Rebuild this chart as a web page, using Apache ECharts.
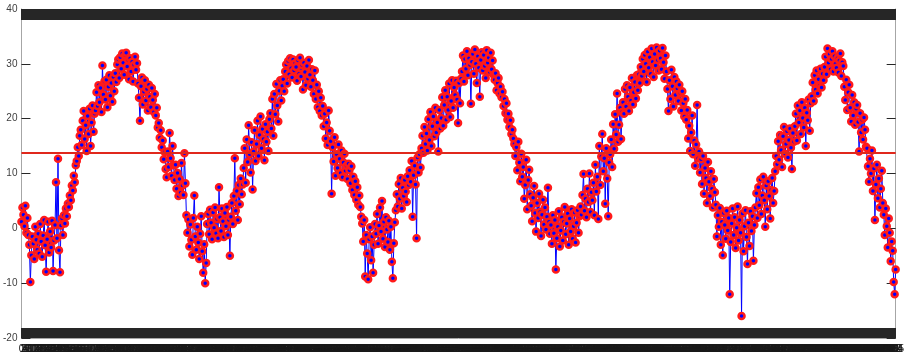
<!DOCTYPE html>
<html>
<head>
<meta charset="utf-8">
<script src="https://cdn.jsdelivr.net/npm/echarts@6/dist/echarts.min.js"></script>
<style>
html,body{margin:0;padding:0;background:#fff;}
#chart{width:907px;height:354px;}
</style>
</head>
<body>
<div id="chart"></div>
<script>
// Daily temperature readings (one value per pixel column)
const temps = [
 1.2,3.8,2.5,0.4,4.1,-0.8,1.9,-1.2,
 -3.0,-9.8,-4.9,-1.5,-2.8,-5.6,0.3,-2.1,-3.9,-1.0,
 -4.6,0.8,-2.4,-5.2,-1.3,1.5,-3.1,-7.9,-2.0,1.2,-4.4,-0.6,-3.5,1.4,-7.8,-2.2,0.6,
 8.4,-1.8,12.7,-4.0,-8.0,
 0.5,1.8,-1.2,2.4,0.9,3.6,2.2,4.5,
 3.9,6.0,5.1,7.8,6.9,9.6,8.4,11.5,
 12.3,14.8,13.2,16.9,18.0,
 15.2,19.6,21.4,16.3,18.8,14.1,20.5,17.2,21.8,15.0,19.3,22.4,17.6,20.9,
 21.5,24.8,22.3,26.1,23.0,25.6,21.2,29.7,24.4,26.8,
 23.5,27.1,22.1,25.8,27.9,24.2,26.5,23.1,27.6,25.0,
 28.3,26.7,29.9,30.8,27.4,31.2,29.1,31.9,30.2,28.0,31.6,32.0,29.5,30.7,27.2,31.0,28.6,30.4,26.8,29.8,31.3,28.9,30.1,
 26.4,23.8,19.6,25.9,27.5,22.6,24.9,
 27.0,23.3,25.4,21.5,26.2,24.0,22.1,25.6,23.4,21.2,24.5,
 20.6,22.0,18.4,19.2,16.5,17.9,14.8,16.0,12.6,13.9,10.8,9.3,
 14.0,11.2,17.4,12.8,9.6,15.0,11.5,
 8.8,11.6,7.2,10.1,5.9,9.0,6.5,11.9,7.8,6.1,13.7,8.2,
 2.4,-0.8,1.6,-3.3,0.7,-2.1,-4.8,1.9,6.0,-1.5,-3.9,0.3,-2.6,-5.6,-1.0,2.2,-4.2,-8.1,-2.9,-10.0,-6.3,
 0.8,2.6,-1.1,3.4,1.0,-2.0,2.9,0.1,3.8,-0.9,1.7,-1.8,7.5,2.0,-0.5,3.6,1.3,-1.6,2.8,0.4,3.9,-1.2,1.5,-5.0,
 2.1,4.6,0.8,5.9,12.8,3.2,6.8,1.5,7.9,4.4,9.1,6.2,8.0,
 11.0,14.6,8.3,16.2,12.1,18.8,13.5,10.2,15.7,7.1,14.0,17.9,12.3,
 15.4,19.6,13.2,17.0,20.4,14.6,18.1,16.3,12.4,19.0,15.8,17.6,14.1,19.9,
 21.0,18.2,23.6,16.9,24.5,20.8,26.3,22.4,19.5,25.1,27.0,23.3,26.0,
 27.2,25.0,28.6,29.9,26.4,30.5,28.1,31.0,29.2,27.5,30.8,28.8,30.1,
 29.4,26.9,30.6,28.2,31.1,27.7,29.8,25.3,30.2,28.5,26.1,29.6,27.3,30.7,28.0,25.8,29.0,
 27.0,24.5,28.8,23.6,26.2,22.1,25.0,21.4,23.8,20.6,
 22.3,18.6,20.9,16.4,19.3,15.2,21.5,17.8,15.9,6.3,
 14.8,12.2,16.6,9.6,13.5,11.0,15.3,12.7,10.1,14.2,9.3,12.0,13.6,10.5,11.4,9.0,11.8,
 10.6,8.2,11.3,7.0,9.4,6.1,8.6,5.2,7.5,4.3,6.0,3.9,2.1,
 0.9,-2.4,1.5,-8.8,-1.2,-4.6,-9.3,-2.0,0.2,-5.8,-1.5,-8.1,-3.0,0.8,
 -1.0,2.6,-2.8,0.5,3.8,-0.6,5.0,-1.9,1.2,-3.4,2.0,-0.2,-2.5,
 1.4,-3.9,0.3,-6.1,-9.1,-2.7,1.1,
 3.3,6.2,4.0,8.1,5.4,9.2,3.6,7.4,5.9,8.8,6.7,4.8,9.5,
 7.9,10.6,8.5,12.3,2.1,9.7,11.4,8.0,-1.8,12.9,10.2,13.5,11.1,
 14.6,16.9,13.8,18.5,15.4,17.3,14.2,19.9,16.1,21.2,15.0,18.6,20.4,16.8,22.0,17.5,19.3,14.0,21.6,18.2,
 20.1,23.9,18.7,22.5,25.2,19.8,24.0,21.6,26.4,20.3,23.2,27.0,22.0,25.7,24.3,26.9,23.5,
 19.2,26.5,22.8,27.3,
 28.6,31.5,26.8,30.9,29.1,32.3,27.9,31.0,29.8,22.7,30.4,31.8,28.2,32.6,30.0,26.5,31.4,29.3,24.0,30.7,32.1,28.8,31.6,29.6,27.4,32.5,30.2,31.1,28.5,32.0,29.0,30.6,28.0,
 27.1,28.3,25.2,26.5,27.4,24.6,25.8,23.9,24.9,22.3,23.6,21.0,22.8,19.8,20.9,18.5,19.7,17.2,18.0,16.4,
 15.4,13.2,14.8,10.6,15.8,12.0,8.6,13.6,9.4,11.2,5.4,7.9,12.5,3.5,8.8,10.7,6.2,
 4.1,1.3,5.6,7.7,2.8,-0.6,4.6,1.9,6.3,3.0,-1.4,2.5,5.2,0.7,3.8,-0.2,2.1,7.4,1.2,-1.0,
 0.6,-2.8,2.4,-0.9,1.5,-7.5,-1.8,0.3,3.1,-3.3,-0.4,2.0,-2.2,1.2,3.9,-1.1,0.9,2.7,-3.0,1.8,-0.6,3.5,-1.9,0.4,2.9,-2.6,1.0,3.3,-0.8,2.2,
 4.0,2.5,6.1,9.9,3.2,5.4,2.0,7.2,4.8,10.0,3.0,6.6,5.1,
 8.3,2.4,11.6,6.7,9.4,1.7,15.0,7.9,13.1,17.2,
 10.4,12.8,4.5,14.6,9.1,2.2,12.0,
 13.5,16.2,11.2,19.0,14.5,20.8,17.1,24.6,15.8,18.9,22.0,16.3,21.2,
 23.0,20.9,25.4,22.2,26.1,24.0,21.4,25.7,23.3,27.4,22.6,24.8,26.7,23.7,27.9,25.2,28.1,
 26.5,29.4,27.8,30.9,28.6,31.6,30.0,26.7,32.2,29.3,31.2,28.2,32.8,30.4,27.6,31.8,29.7,33.0,30.7,28.8,32.4,31.0,29.0,32.9,30.3,27.3,31.5,
 28.6,25.4,21.4,27.0,23.6,28.9,25.9,22.2,27.6,24.3,26.8,25.5,23.2,26.2,24.7,21.5,25.0,22.8,20.4,23.6,
 19.8,21.6,16.4,18.7,14.1,17.5,20.6,13.5,16.0,11.4,15.3,22.5,12.8,
 14.0,10.2,12.6,8.1,13.2,6.3,11.0,9.2,4.6,12.1,8.5,5.9,10.4,7.2,3.8,9.0,6.6,
 4.3,-1.5,2.4,0.3,3.7,-3.0,1.2,-4.9,2.8,0.6,-1.9,3.2,-0.4,1.9,-12.0,-2.5,0.9,3.6,-1.2,2.0,-3.6,0.1,4.0,-2.2,1.5,-0.8,-16.0,2.7,-4.2,0.4,3.3,-1.6,-6.5,
 1.0,-3.2,3.1,-0.5,2.2,-5.9,0.6,
 3.8,6.4,1.9,7.5,4.2,8.9,2.6,6.0,9.4,5.1,0.3,7.8,3.5,8.6,5.9,1.8,7.0,9.2,4.6,6.8,
 10.4,13.2,11.7,15.9,12.5,17.0,14.3,11.2,16.8,18.5,13.6,15.4,17.7,12.9,16.1,18.2,14.7,10.8,17.4,15.8,
 18.6,20.9,16.0,22.4,19.3,21.5,17.2,23.0,20.1,18.4,22.0,15.0,21.1,19.7,23.5,17.8,22.8,
 24.1,26.6,23.2,27.9,25.3,28.8,24.6,27.2,26.0,29.1,25.7,28.2,27.0,
 29.4,31.3,28.1,32.8,30.2,31.8,29.0,30.9,32.3,28.6,31.4,30.0,29.3,31.0,28.4,30.6,31.9,27.8,30.3,29.6,
 25.8,23.4,27.1,21.6,24.8,26.2,22.0,19.5,24.3,20.6,23.0,18.9,21.8,
 22.5,19.4,14.0,21.0,17.5,19.8,16.2,20.2,18.0,14.9,
 14.6,11.3,8.5,12.7,10.0,14.2,6.8,10.9,1.5,8.0,11.6,5.5,9.1,3.8,7.2,10.5,4.6,
 2.5,-1.2,3.6,0.4,-3.5,1.8,-0.8,-6.0,-2.4,-4.1,-9.8,-12.0,-7.5
];
// Mean level drawn as the red horizontal line
const meanTemp = 13.8;
// Y-axis ticks
const yTicks = [-20, -10, 0, 10, 20, 30, 40];

// Category indices (sample numbers)
const dayIndex = temps.map((_, i) => String(i));

const chart = echarts.init(document.getElementById('chart'), null, {renderer: 'canvas'});
const axisGray = '#a6a6a6';
const tickDark = '#262626';
const option = {
  backgroundColor: '#ffffff',
  animation: false,
  grid: {left: 21, right: 2, top: 9, bottom: 11, containLabel: false},
  xAxis: [
    {
      type: 'category', data: dayIndex, boundaryGap: false, position: 'bottom',
      axisLine: {show: true, onZero: false, lineStyle: {color: axisGray, width: 1}},
      axisTick: {show: true, inside: true, length: 10, interval: 0, lineStyle: {color: tickDark, width: 1}},
      axisLabel: {show: true, interval: 0, fontSize: 10, color: '#1a1a1a', margin: 6, hideOverlap: false, fontFamily: 'Liberation Sans'},
      splitLine: {show: false}
    },
    {
      type: 'category', data: dayIndex, boundaryGap: false, position: 'top',
      axisLine: {show: true, onZero: false, lineStyle: {color: axisGray, width: 1}},
      axisTick: {show: true, inside: true, length: 11, interval: 0, lineStyle: {color: tickDark, width: 1}},
      axisLabel: {show: false},
      splitLine: {show: false}
    }
  ],
  yAxis: [
    {
      type: 'value', min: yTicks[0], max: yTicks[yTicks.length - 1], interval: 10, position: 'left',
      axisLine: {show: true, onZero: false, lineStyle: {color: axisGray, width: 1}},
      axisTick: {show: true, inside: true, length: 9, lineStyle: {color: tickDark, width: 1}},
      axisLabel: {show: true, fontSize: 10, color: '#404040', margin: 4, fontFamily: 'Liberation Sans'},
      splitLine: {show: false}
    },
    {
      type: 'value', min: yTicks[0], max: yTicks[yTicks.length - 1], interval: 10, position: 'right',
      axisLine: {show: true, onZero: false, lineStyle: {color: axisGray, width: 1}},
      axisTick: {show: true, inside: true, length: 9, lineStyle: {color: tickDark, width: 1}},
      axisLabel: {show: false},
      splitLine: {show: false}
    }
  ],
  series: [
    {
      type: 'line', data: temps, xAxisIndex: 0, yAxisIndex: 0,
      symbol: 'circle', symbolSize: 6, showSymbol: true, showAllSymbol: true,
      lineStyle: {color: '#0000ff', width: 1},
      itemStyle: {color: '#0000ff', borderColor: '#ff1a1a', borderWidth: 2.5},
      emphasis: {disabled: true},
      markLine: {
        silent: true, symbol: 'none', animation: false,
        label: {show: false},
        lineStyle: {color: '#e0281c', width: 2, type: 'solid'},
        data: [{yAxis: meanTemp}]
      }
    }
  ]
};
chart.setOption(option);
</script>
</body>
</html>
